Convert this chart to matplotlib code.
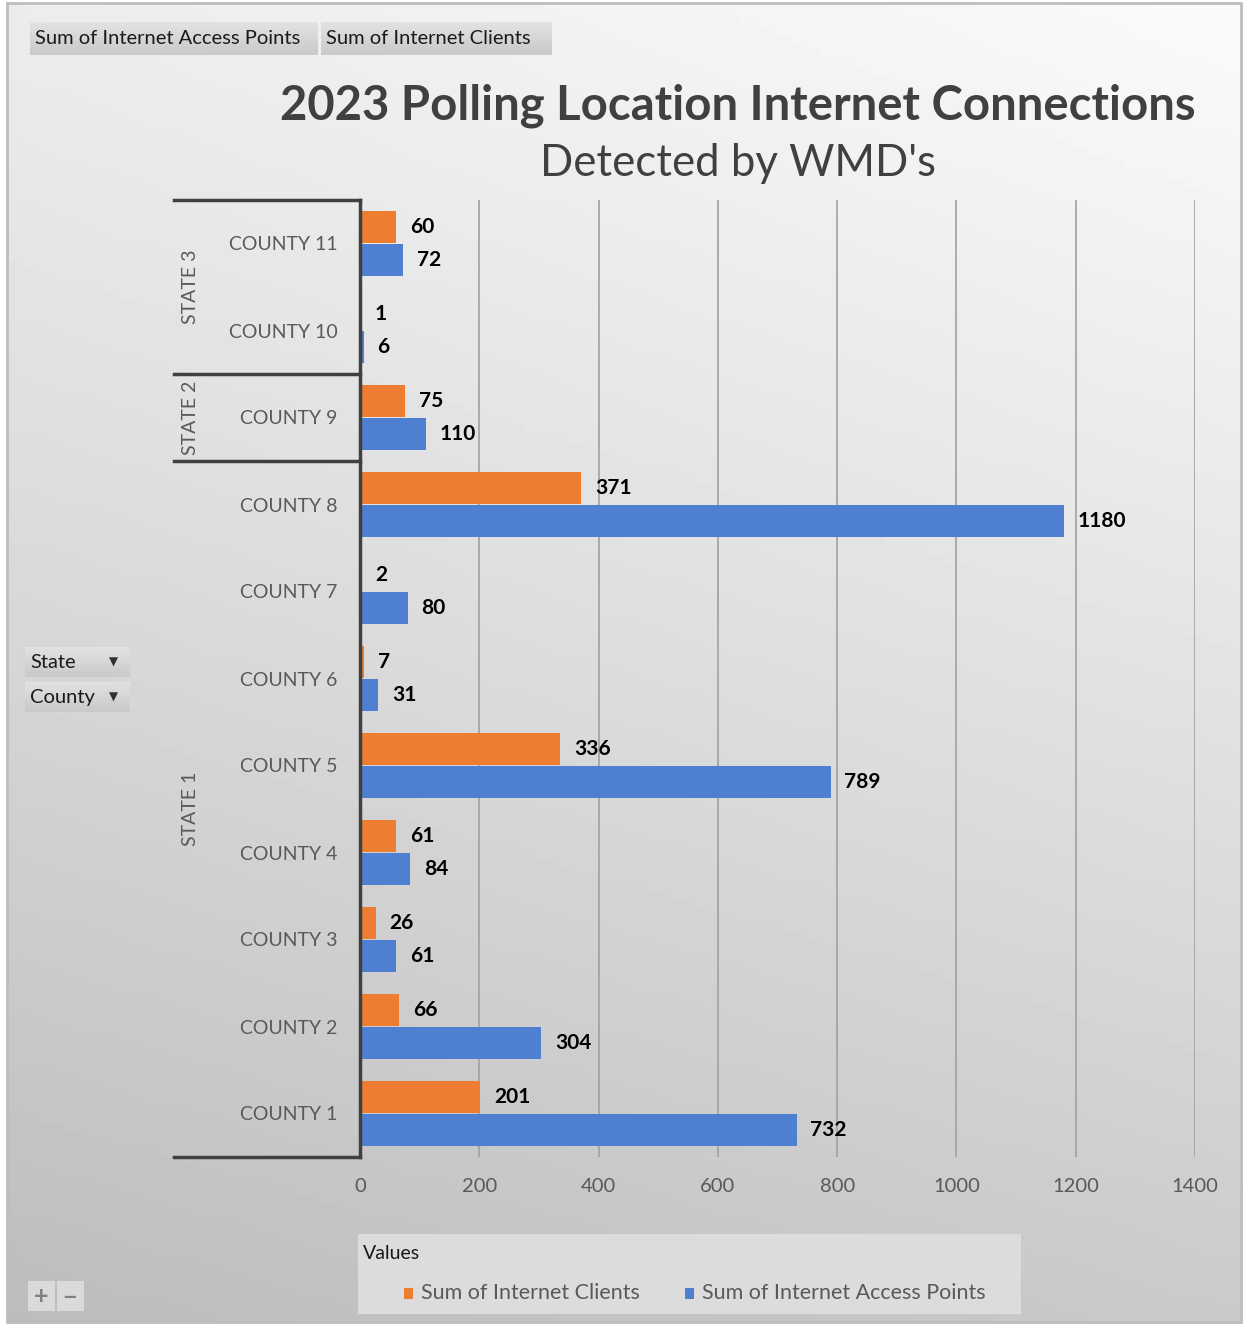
from matplotlib import pyplot as plt
from matplotlib.patches import Rectangle
from matplotlib.lines import Line2D
import numpy as np

plt.rcParams['font.family'] = ['Lato', 'DejaVu Sans']

counties = ['COUNTY 1', 'COUNTY 2', 'COUNTY 3', 'COUNTY 4', 'COUNTY 5', 'COUNTY 6',
            'COUNTY 7', 'COUNTY 8', 'COUNTY 9', 'COUNTY 10', 'COUNTY 11']
clients = [201, 66, 26, 61, 336, 7, 2, 371, 75, 1, 60]
access_points = [732, 304, 61, 84, 789, 31, 80, 1180, 110, 6, 72]
states = ['STATE 1', 'STATE 2', 'STATE 3']
state_sizes = [8, 1, 2]
xticks = [0, 200, 400, 600, 800, 1000, 1200, 1400]

W, H = 1244, 1327
ORANGE = '#ED7D31'
BLUE = '#4F7FD0'
DARK = '#404040'
GREY = '#595959'


def fx(x):
    return x / W


def fy(y):
    return 1 - y / H


fig = plt.figure(figsize=(W / 100, H / 100), dpi=100)

# background gradient inside the chart frame
bg = fig.add_axes([fx(7), fy(1322), fx(1241) - fx(7), fy(3) - fy(1322)])
gx, gy = np.meshgrid(np.linspace(0, 1, 200), np.linspace(0, 1, 200))
shade = (250 - 48 * gy ** 1.1 - 14 * (1 - gx)) / 255.
bg.imshow(shade, cmap='gray', vmin=0, vmax=1, aspect='auto', extent=[0, 1, 1, 0])
bg.set_axis_off()
fig.add_artist(Rectangle((fx(7), fy(1322)), fx(1241) - fx(7), fy(3) - fy(1322),
                         transform=fig.transFigure, fill=False, edgecolor='#bdbdbd', lw=2))

ax = fig.add_axes([fx(360), fy(1157), fx(1195) - fx(360), fy(200) - fy(1157)])
ax.set_facecolor('none')

y = np.arange(len(counties))
bh = 0.36
ax.barh(y + 0.19, clients, height=bh, color=ORANGE, zorder=3, label='Sum of Internet Clients')
ax.barh(y - 0.19, access_points, height=bh, color=BLUE, zorder=3, label='Sum of Internet Access Points')

for yi, v in zip(y, clients):
    ax.annotate(str(v), xy=(v, yi + 0.19), xytext=(10, 0), textcoords='offset points',
                va='center', ha='left', fontsize=15, fontweight='bold', color='black')
for yi, v in zip(y, access_points):
    ax.annotate(str(v), xy=(v, yi - 0.19), xytext=(10, 0), textcoords='offset points',
                va='center', ha='left', fontsize=15, fontweight='bold', color='black')

ax.set_xlim(0, 1400)
ax.set_ylim(-0.5, len(counties) - 0.5)
ax.set_xticks(xticks)
ax.set_xticklabels([str(t) for t in xticks], fontsize=14.5, color=GREY)
ax.set_yticks(y)
ax.set_yticklabels(counties, fontsize=14, color=GREY)
ax.tick_params(axis='both', length=0)
ax.tick_params(axis='x', pad=15)
ax.tick_params(axis='y', pad=16)
ax.grid(axis='x', color='#a0a0a0', lw=1.2, zorder=0)
ax.set_axisbelow(True)
for s in ['top', 'right', 'bottom']:
    ax.spines[s].set_visible(False)
ax.spines['left'].set_color(DARK)
ax.spines['left'].set_linewidth(2.5)
ax.spines['left'].set_zorder(4)

# state brackets
tr = ax.get_yaxis_transform()
x_left = (174 - 360) / (1195 - 360)
bounds = [-0.5]
for n in state_sizes:
    bounds.append(bounds[-1] + n)
for b in bounds:
    ax.add_line(Line2D([x_left, 0], [b, b], transform=tr, color=DARK, lw=2.5, clip_on=False))
x_state = (190 - 360) / (1195 - 360)
for name, lo, hi in zip(states, bounds[:-1], bounds[1:]):
    ax.text(x_state, (lo + hi) / 2, name, transform=tr, rotation=90, ha='center', va='center',
            fontsize=14, color=GREY)

# titles
fig.text(fx(738), fy(106), '2023 Polling Location Internet Connections', ha='center', va='center',
         fontsize=34, fontweight='bold', color=DARK)
fig.text(fx(738), fy(163), "Detected by WMD's", ha='center', va='center', fontsize=31.5, color=DARK)


def button(x0, y0, x1, y1, text, top='#e2e2e2', bottom='#c9c9c9', size=14.5, color='#1a1a1a', tx=None):
    bax = fig.add_axes([fx(x0), fy(y1), fx(x1) - fx(x0), fy(y0) - fy(y1)])
    ramp = np.linspace(0, 1, 50)[:, None]
    c0 = int(top[1:3], 16) / 255.
    c1 = int(bottom[1:3], 16) / 255.
    bax.imshow(c0 + (c1 - c0) * ramp, cmap='gray', vmin=0, vmax=1, aspect='auto',
               extent=[0, 1, 0, 1], origin='upper')
    bax.set_axis_off()
    fig.text(fx(tx if tx is not None else x0 + 5), fy((y0 + y1) / 2), text, ha='left', va='center',
             fontsize=size, color=color)


button(30, 22, 318, 55, 'Sum of Internet Access Points')
button(321, 22, 551, 55, 'Sum of Internet Clients')
button(25, 647, 130, 677, 'State')
button(25, 682, 130, 712, 'County')
for yy in [662, 697]:
    fig.text(fx(113), fy(yy), '\u25bc', ha='center', va='center', fontsize=8.5, color='#303030')

# legend area
fig.add_artist(Rectangle((fx(358), fy(1314)), fx(1021) - fx(358), fy(1234) - fy(1314),
                         transform=fig.transFigure, facecolor='#dcdcdc', edgecolor='none'))
button(358, 1236, 434, 1271, 'Values', top='#d8d8d8', bottom='#c8c8c8', size=14)
for sx, c, lab in [(404, ORANGE, 'Sum of Internet Clients'), (685, BLUE, 'Sum of Internet Access Points')]:
    fig.add_artist(Rectangle((fx(sx), fy(1299)), fx(9), fy(1288) - fy(1299),
                             transform=fig.transFigure, facecolor=c, edgecolor='none'))
    fig.text(fx(sx + 17), fy(1293), lab, ha='left', va='center', fontsize=15.5, color=GREY)

# zoom buttons
fig.add_artist(Rectangle((fx(28), fy(1311)), fx(27), fy(1281) - fy(1311),
                         transform=fig.transFigure, facecolor='#dadada', edgecolor='none'))
fig.add_artist(Rectangle((fx(57), fy(1311)), fx(27), fy(1281) - fy(1311),
                         transform=fig.transFigure, facecolor='#dadada', edgecolor='none'))
fig.text(fx(41), fy(1297), '+', ha='center', va='center', fontsize=18, color='#7f7f7f', fontweight='bold')
fig.text(fx(70), fy(1297), '\u2212', ha='center', va='center', fontsize=18, color='#7f7f7f', fontweight='bold')

plt.savefig('out.png', dpi=100)
